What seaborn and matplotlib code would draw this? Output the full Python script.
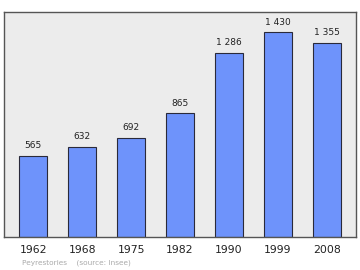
import matplotlib
matplotlib.use("Agg")
import matplotlib.pyplot as plt
import seaborn as sns
import pandas as pd

years = ["1962", "1968", "1975", "1982", "1990", "1999", "2008"]
population = [565, 632, 692, 865, 1286, 1430, 1355]
value_labels = ["565", "632", "692", "865", "1 286", "1 430", "1 355"]

sns.set_style("white")
plt.rcParams['font.family'] = ['DejaVu Sans']

df = pd.DataFrame({"year": years, "pop": population})

fig = plt.figure(figsize=(3.6, 2.7), dpi=100)
ax = fig.add_axes([4/360, 1 - 237/270, 352/360, 225/270])
ax.set_facecolor("#ececec")
sns.barplot(data=df, x="year", y="pop", ax=ax, color="#6e93fb",
            saturation=1, width=0.57, edgecolor="#2a2a3a", linewidth=0.8)
ax.set_xlim(-0.6, 6.6)
ax.set_ylim(0, 1573)
ax.set_yticks([])
ax.set_xlabel("")
ax.set_ylabel("")
for i, (v, lab) in enumerate(zip(population, value_labels)):
    ax.text(i, v + 40, lab, ha="center", va="bottom", fontsize=6.5, color="#222222")
ax.tick_params(axis="x", length=0, labelsize=7.8, pad=6, colors="#222222")
for s in ax.spines.values():
    s.set_color("#555555")
    s.set_linewidth(1.0)
fig.text(22/360, 1 - 263/270, "Peyrestories    (source: Insee)", fontsize=5.3,
         color="#aaaaaa", va="center", ha="left")
fig.savefig("out.png", dpi=100)
